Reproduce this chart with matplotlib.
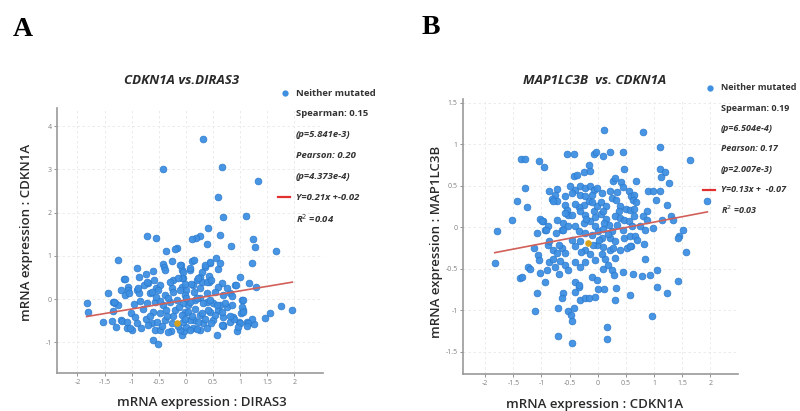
import numpy as np
import matplotlib
matplotlib.use("Agg")
import matplotlib.pyplot as plt
from matplotlib.lines import Line2D

plt.rcParams["font.family"] = ["Open Sans", "DejaVu Sans"]

# ── Panel A: CDKN1A vs DIRAS3 (x = DIRAS3, y = CDKN1A) ──────────────────────
a_pts = [
    (0.31, 3.71), (-0.42, 3.02), (0.67, 3.05), (1.33, 2.72), (0.60, 2.35),
    (0.69, 1.89), (1.11, 1.93), (0.41, 1.64), (0.63, 1.49), (-0.72, 1.46),
    (-0.55, 1.41), (0.26, 1.45), (0.18, 1.42), (0.11, 1.38), (0.39, 1.28),
    (-0.16, 1.17), (-0.21, 1.15), (-0.37, 1.12), (1.24, 1.38), (1.28, 1.21),
    (0.83, 1.23), (1.66, 1.12),
    (-1.25, 0.90), (-0.25, 0.89), (0.12, 0.89), (0.55, 0.96), (1.22, 0.83),
    (0.45, 0.83), (0.36, 0.75), (-0.42, 0.80), (-0.40, 0.75), (-0.38, 0.68),
    (-0.09, 0.78), (-0.07, 0.68), (-0.90, 0.71), (0.60, 0.69), (0.07, 0.67),
    (-0.60, 0.65), (-0.74, 0.59), (-0.86, 0.52), (0.99, 0.52), (0.26, 0.51),
    (0.20, 0.44), (0.29, 0.40), (-1.14, 0.47), (-0.23, 0.44), (0.43, 0.40),
    (1.16, 0.38), (-0.05, 0.48), (-0.69, 0.38), (-0.77, 0.32), (0.66, 0.38),
    (0.13, 0.32), (0.91, 0.32), (1.30, 0.28), (-1.07, 0.27), (-1.06, 0.22),
    (-0.55, 0.25), (0.60, 0.27), (-0.26, 0.25), (-0.08, 0.28), (0.01, 0.22),
    (-0.90, 0.21), (-0.86, 0.13), (-1.20, 0.22), (-1.43, 0.15), (-1.12, 0.09),
    (-1.35, -0.06), (-1.31, -0.10), (-1.26, -0.14), (-1.83, -0.10), (-1.80, -0.29),
    (-1.52, -0.52), (-1.36, -0.50), (-1.29, -0.65), (-1.20, -0.48), (-1.09, -0.68),
    (-1.00, -0.72), (-1.02, -0.33), (-0.94, -0.41), (-1.18, -0.50), (-1.09, -0.53),
    (-1.03, -0.68), (-0.91, -0.56), (-0.82, -0.68), (-0.79, -0.22), (-0.74, -0.45),
    (-0.63, -0.56), (-0.57, -0.72), (-1.13, 0.46), (-1.05, 0.15), (-0.88, 0.25),
    (-0.71, 0.40), (-0.66, 0.15), (-1.33, -0.06), (-1.34, -0.27),
    (1.96, -0.25), (1.76, -0.15), (1.54, -0.32), (1.45, -0.43), (1.25, -0.58),
    (1.12, -0.52), (1.06, -0.25), (1.04, -0.01), (0.94, -0.74), (0.97, -0.54),
    (1.01, -0.33), (0.87, -0.41), (0.81, -0.52), (0.69, -0.60), (0.58, -0.83),
    (-0.60, -0.95), (-0.51, -1.05), (-0.08, -0.83), (-0.04, -0.75), (-0.28, -0.75),
    (0.13, -0.68), (0.26, -0.72),
    (0.35, 0.79), (0.44, 0.86), (0.63, 0.83), (0.14, 0.90), (0.07, 0.71),
    (0.29, 0.63), (0.23, 0.48), (0.38, 0.40), (0.43, 0.53), (-0.11, 0.79),
    (-0.05, 0.63), (-0.08, 0.48), (-0.02, 0.36), (0.92, 0.32), (0.81, 0.13),
    (0.84, 0.07), (1.06, -0.02), (1.03, -0.18), (1.06, -0.29),
    (0.17, -0.02), (0.26, 0.02), (0.38, -0.06), (0.50, -0.10), (0.63, -0.14),
    (0.75, -0.18), (0.84, -0.14), (0.60, -0.26), (0.44, -0.29), (0.26, -0.37),
    (0.14, -0.49), (0.32, -0.56), (0.50, -0.49), (0.69, -0.42), (0.01, -0.64),
    (0.20, -0.70), (0.38, -0.68), (-0.02, -0.29), (0.04, -0.14), (1.21, -0.47),
    (1.15, -0.56), (1.12, -0.63), (0.99, -0.55), (0.96, -0.64), (0.88, -0.46),
    (0.69, -0.63), (0.81, -0.39),
    (-0.59, 0.44), (-0.48, 0.32), (-0.30, 0.40), (-0.14, 0.48), (0.10, 0.36),
    (0.47, 0.44), (0.75, 0.25), (-0.63, 0.17), (-0.51, 0.21), (-0.39, 0.09),
    (-0.23, 0.17), (-0.11, 0.21), (-0.02, 0.09), (0.14, 0.17), (0.26, 0.25),
    (0.38, 0.13), (0.53, 0.17), (0.69, 0.09), (-0.57, -0.06), (-0.42, -0.14),
    (-0.30, -0.06), (-0.17, -0.02), (-0.05, -0.10), (0.07, -0.06), (0.20, 0.02),
    (0.32, -0.10), (0.44, -0.02), (0.57, -0.14), (0.72, -0.10), (-0.60, -0.29),
    (-0.48, -0.33), (-0.36, -0.25), (-0.20, -0.25), (-0.08, -0.37), (0.04, -0.29),
    (0.17, -0.22), (0.29, -0.33), (0.41, -0.25), (0.53, -0.37), (0.66, -0.29),
    (-0.54, -0.52), (-0.39, -0.49), (-0.26, -0.56), (-0.05, -0.52), (0.07, -0.49),
    (0.23, -0.52), (0.35, -0.45), (0.47, -0.56), (0.66, -0.60), (-0.48, -0.72),
    (-0.33, -0.76), (-0.11, -0.72), (0.07, -0.72), (-0.72, -0.10), (-0.84, -0.05),
    (-0.66, -0.40), (-0.47, -0.05), (-0.33, 0.02), (-0.12, -0.18), (-0.24, -0.40),
    (-0.15, -0.62), (-0.02, -0.45), (0.12, -0.38), (-0.44, -0.62), (-0.70, -0.60),
    (-0.95, -0.12), (-0.56, 0.05), (0.00, 0.02), (-0.35, -0.38),
]
a_highlight = (-0.17, -0.55)
a_slope, a_icept = 0.21, -0.02
a_xticks = [-2, -1.5, -1, -0.5, 0, 0.5, 1, 1.5, 2]
a_yticks = [-1, 0, 1, 2, 3, 4]
a_legend = ["Neither mutated", "Spearman: 0.15", "(p=5.841e-3)", "Pearson: 0.20",
            "(p=4.373e-4)", "Y=0.21x +-0.02", "R$^2$ =0.04"]

# ── Panel B: MAP1LC3B vs CDKN1A (x = CDKN1A, y = MAP1LC3B) ──────────────────
b_pts = [
    (-1.36, 0.82), (-1.29, 0.82), (-1.04, 0.80), (-0.96, 0.72), (-0.55, 0.88),
    (-0.43, 0.88), (-0.07, 0.88), (-0.03, 0.91), (-1.30, 0.47), (-1.44, 0.31),
    (-1.26, 0.24), (-1.53, 0.09), (-1.79, -0.05), (-1.02, 0.10), (-0.97, 0.07),
    (-0.89, 0.01), (-0.93, -0.03), (-1.08, -0.07), (-0.87, 0.44), (-0.73, 0.46),
    (-0.76, 0.39), (-0.82, 0.34), (-0.73, 0.31), (-0.80, 0.31), (-0.58, 0.37),
    (-0.59, 0.27), (-0.55, 0.21), (-0.43, 0.61), (-0.37, 0.63), (-0.25, 0.67),
    (-0.13, 0.68), (-0.15, 0.75), (-0.49, 0.49), (-0.40, 0.45), (-0.31, 0.49),
    (-0.22, 0.47), (-0.13, 0.49), (-0.07, 0.45), (-0.02, 0.47), (-0.46, 0.41),
    (-0.31, 0.39), (-0.22, 0.37), (-0.10, 0.39), (-0.16, 0.31), (-0.25, 0.27),
    (-0.34, 0.24), (-0.40, 0.28), (-0.52, 0.15), (-0.46, 0.15), (-0.31, 0.19),
    (-0.22, 0.15), (-0.07, 0.19), (-0.02, 0.25), (-0.58, 0.17), (-0.61, 0.05),
    (-0.64, -0.03), (-0.52, 0.01), (-0.40, 0.01), (-0.25, 0.05), (-0.13, 0.07),
    (-0.04, 0.01), (-0.34, -0.05), (-0.22, -0.07), (-0.11, -0.09),
    (0.12, 1.17), (0.81, 1.14), (1.10, 0.96), (1.64, 0.81), (0.10, 0.86),
    (0.22, 0.90), (0.45, 0.91), (0.46, 0.70), (0.27, 0.55), (0.31, 0.59),
    (0.41, 0.54), (0.45, 0.48), (0.68, 0.55), (1.11, 0.70), (1.20, 0.66),
    (1.12, 0.60), (1.26, 0.53), (0.90, 0.43), (0.99, 0.44), (1.11, 0.44),
    (1.03, 0.33), (1.23, 0.27), (0.21, 0.43), (0.34, 0.42), (0.07, 0.41),
    (0.25, 0.35), (0.33, 0.33), (0.55, 0.43), (0.59, 0.38), (0.64, 0.39),
    (0.62, 0.33), (0.68, 0.30), (0.40, 0.25), (0.51, 0.22), (0.58, 0.21),
    (0.64, 0.22), (0.37, 0.19), (0.31, 0.13), (0.40, 0.11), (0.46, 0.09),
    (0.55, 0.07), (0.87, 0.19), (0.81, 0.13), (0.87, 0.09), (0.64, 0.13),
    (0.61, 0.01), (0.75, 0.01), (0.84, -0.03), (0.98, -0.01), (1.14, 0.09),
    (1.31, 0.13), (1.34, 0.09), (1.95, 0.32), (1.44, -0.11), (1.52, -0.03),
    (0.07, -0.13), (0.22, -0.13), (0.31, -0.17), (0.46, -0.13), (0.58, -0.11),
    (0.67, -0.11), (0.10, -0.24), (0.21, -0.27), (0.27, -0.25), (0.40, -0.27),
    (0.59, -0.23), (0.83, -0.20), (1.42, -0.13), (1.57, -0.30), (0.84, -0.38),
    (0.07, -0.33), (0.13, -0.39), (0.10, -0.50), (0.19, -0.46), (0.25, -0.52),
    (0.31, -0.37), (0.29, -0.58), (0.45, -0.54), (0.62, -0.57), (0.78, -0.59),
    (0.93, -0.58), (1.05, -0.52), (0.12, -0.75), (0.33, -0.73), (0.58, -0.82),
    (0.30, -0.88), (1.05, -0.72), (1.23, -0.79), (1.42, -0.65), (0.96, -1.07),
    (0.17, -1.20), (0.17, -1.35),
    (-1.83, -0.43), (-1.38, -0.61), (-1.35, -0.60), (-1.24, -0.48), (-1.20, -0.51),
    (-1.14, -0.25), (-1.06, -0.34), (-1.04, -0.40), (-0.93, -0.66), (-1.08, -0.80),
    (-1.12, -1.01), (-1.02, -0.55), (-0.90, -0.52), (-0.87, -0.42), (-0.80, -0.38),
    (-0.76, -0.48), (-0.69, -0.56), (-0.89, -0.21), (-0.80, -0.27), (-0.73, -0.31),
    (-0.64, -0.25), (-0.58, -0.31), (-0.67, -0.41), (-0.58, -0.46), (-0.52, -0.52),
    (-0.61, -0.80), (-0.64, -0.86), (-0.70, -0.97), (-0.71, -1.31), (-0.45, -1.40),
    (-0.53, -1.01), (-0.47, -1.06), (-0.45, -1.13), (-0.43, -0.98), (-0.40, -0.78),
    (-0.34, -0.72), (-0.31, -0.88), (-0.23, -0.86), (-0.16, -0.85), (-0.05, -0.84),
    (-0.10, -0.60), (-0.02, -0.64), (0.01, -0.74), (-0.40, -0.66), (-0.34, -0.70),
    (-0.46, -0.15), (-0.40, -0.23), (-0.31, -0.17), (-0.22, -0.27), (-0.13, -0.33),
    (-0.05, -0.40), (-0.01, -0.21), (-0.22, -0.42), (-0.31, -0.48), (-0.40, -0.42),
    (-0.05, 0.12), (0.05, 0.16), (0.15, 0.10), (0.00, -0.05), (0.10, -0.02),
    (0.20, 0.03), (0.05, 0.30), (0.15, 0.25), (-0.10, 0.30), (0.25, -0.05),
    (-0.30, -0.30), (0.02, -0.15), (-0.08, -0.22), (0.12, 0.05), (0.35, 0.02),
    (0.45, -0.03), (-0.20, 0.10), (0.10, 0.20), (0.18, -0.08), (0.70, -0.15),
    (0.52, -0.25), (0.58, -0.23), (-0.99, 0.07), (-0.92, -0.03), (-0.86, -0.17),
    (-0.74, -0.07), (-0.68, -0.21), (-0.61, -0.03), (-0.73, 0.09),
]
b_highlight = (-0.17, -0.19)
b_slope, b_icept = 0.13, -0.07
b_xticks = [-2, -1.5, -1, -0.5, 0, 0.5, 1, 1.5, 2]
b_yticks = [-1.5, -1, -0.5, 0, 0.5, 1, 1.5]
b_legend = ["Neither mutated", "Spearman: 0.19", "(p=6.504e-4)", "Pearson: 0.17",
            "(p=2.007e-3)", "Y=0.13x +  -0.07", "R$^2$ =0.03"]

W, H = 800, 411
DOT = "#3d8fe2"
DOT_EDGE = "#2a78cc"
FIT = "#d2605a"
TXT = "#333333"


def fx(x):
    return x / W


def fy(y):
    return 1 - y / H


def tick_fmt(v):
    return f"{v:g}"


def draw_panel(fig, rect, pts, hl, slope, icept, xlim, ylim, xticks, yticks,
               title, title_xy, xlabel, xlabel_xy, ylabel, ylabel_xy,
               legend, leg_x, leg_y0, leg_dy, leg_fs):
    ax = fig.add_axes(rect)
    pts = np.array(pts)
    ax.scatter(pts[:, 0], pts[:, 1], s=24, color=DOT, edgecolors=DOT_EDGE,
               linewidths=0.5, alpha=0.95, zorder=3)
    ax.scatter([hl[0]], [hl[1]], s=14, color="#d9a21b", zorder=4)
    x0, x1 = pts[:, 0].min(), pts[:, 0].max()
    ax.plot([x0, x1], [slope * x0 + icept, slope * x1 + icept],
            color=FIT, lw=1.2, zorder=5)

    ax.set_xlim(*xlim)
    ax.set_ylim(*ylim)
    ax.set_xticks(xticks)
    ax.set_yticks(yticks)
    ax.set_xticklabels([tick_fmt(v) for v in xticks])
    ax.set_yticklabels([tick_fmt(v) for v in yticks])
    ax.tick_params(labelsize=5, colors="#808080", length=2, width=0.6, pad=2)
    ax.grid(True, color="#e8e8e8", lw=0.6, ls=(0, (3, 3)))
    ax.set_axisbelow(True)
    for side in ("top", "right"):
        ax.spines[side].set_visible(False)
    for side in ("left", "bottom"):
        ax.spines[side].set_color("#9a9a9a")
        ax.spines[side].set_linewidth(1.2)

    fig.text(fx(title_xy[0]), fy(title_xy[1]), title, ha="center", va="center",
             fontsize=9.5, fontweight="bold", fontstyle="italic", color="#2a2a2a")
    fig.text(fx(xlabel_xy[0]), fy(xlabel_xy[1]), xlabel, ha="center",
             va="center", fontsize=9.5, fontweight="semibold", color="#2a2a2a")
    fig.text(fx(ylabel_xy[0]), fy(ylabel_xy[1]), ylabel, ha="center",
             va="center", rotation=90, fontsize=9.5, fontweight="semibold",
             color="#2a2a2a")

    # legend-like annotation column
    for i, line in enumerate(legend):
        y = leg_y0 + i * leg_dy
        style = "italic" if i >= 2 else "normal"
        fig.text(fx(leg_x), fy(y), line, ha="left", va="center", fontsize=leg_fs,
                 fontweight="bold", fontstyle=style, color=TXT)
        if i == 0:
            fig.add_artist(Line2D([fx(leg_x - 11)], [fy(y)], marker="o",
                                  markersize=3.5, color=DOT, lw=0))
        if i == 5:
            fig.add_artist(Line2D([fx(leg_x - 18), fx(leg_x - 6)], [fy(y), fy(y)],
                                  color="#e03030", lw=1.6))
    return ax


fig = plt.figure(figsize=(W / 100, H / 100), dpi=100)

draw_panel(fig, [57.3 / W, 1 - 373 / H, (322.7 - 57.3) / W, (373 - 108) / H],
           a_pts, a_highlight, a_slope, a_icept,
           (-2.37, 2.52), (-1.71, 4.42), a_xticks, a_yticks,
           "CDKN1A vs.DIRAS3", (182, 80),
           "mRNA expression : DIRAS3", (202, 402),
           "mRNA expression : CDKN1A", (27, 232),
           a_legend, 296, 93, 20.9, 6.8)

draw_panel(fig, [463.3 / W, 1 - 374 / H, (738.3 - 463.3) / W, (374 - 99.3) / H],
           b_pts, b_highlight, b_slope, b_icept,
           (-2.39, 2.50), (-1.77, 1.54), b_xticks, b_yticks,
           "MAP1LC3B  vs. CDKN1A", (595, 80),
           "mRNA expression : CDKN1A", (595, 404),
           "mRNA expression : MAP1LC3B", (436, 242),
           b_legend, 721, 88, 20.3, 6.5)

fig.text(fx(23), fy(29), "A", ha="center", va="center", fontsize=20,
         fontweight="bold", family=["Liberation Serif", "DejaVu Serif"])
fig.text(fx(431), fy(28), "B", ha="center", va="center", fontsize=20,
         fontweight="bold", family=["Liberation Serif", "DejaVu Serif"])

fig.savefig("out.png", dpi=100)
